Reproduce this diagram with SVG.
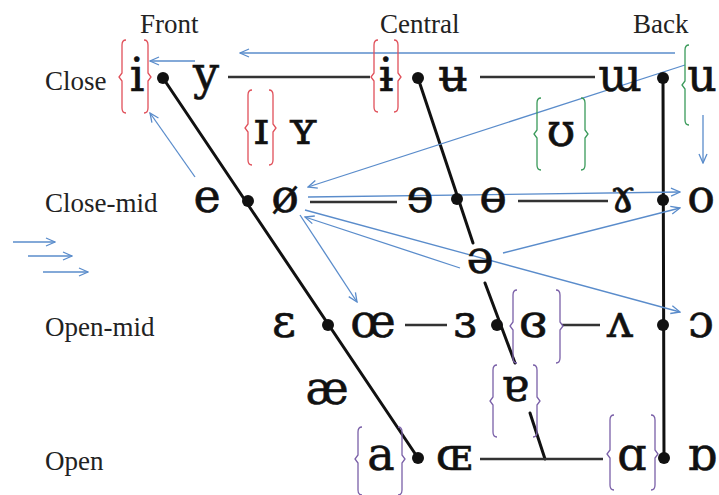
<svg xmlns="http://www.w3.org/2000/svg" width="719" height="495" viewBox="0 0 719 495">
<style>
.lbl{font-family:"Liberation Serif","Times New Roman",serif;font-size:27px;fill:#222}
.v{font-family:"DejaVu Serif","Liberation Serif",serif;font-size:46px;fill:#111;stroke:#111;stroke-width:0.6;text-anchor:middle}
.dot{fill:#111}
.ln{stroke:#111;stroke-width:3;fill:none;stroke-linecap:round}
.hl{stroke:#333;stroke-width:2.5;fill:none}
.ar{stroke:#5a8ccb;stroke-width:1.3;fill:none;marker-end:url(#ah)}
.br{fill:none;stroke-width:1.3}
.red{stroke:#e0505a}
.grn{stroke:#3a9a5a}
.pur{stroke:#7a60a8}
</style>
<defs>
<marker id="ah" markerWidth="11" markerHeight="10" refX="10" refY="5" orient="auto" markerUnits="userSpaceOnUse">
<path d="M1,1 L10,5 L1,9" fill="none" stroke="#5a8ccb" stroke-width="1.3"/>
</marker>
</defs>
<rect width="719" height="495" fill="#fff"/>

<g id="labels">
<text class="lbl" x="140" y="33">Front</text>
<text class="lbl" x="380" y="33">Central</text>
<text class="lbl" x="633" y="33">Back</text>
<text class="lbl" x="45" y="90">Close</text>
<text class="lbl" x="45" y="212">Close-mid</text>
<text class="lbl" x="45" y="336">Open-mid</text>
<text class="lbl" x="45" y="470">Open</text>
</g>

<g id="connectors">
<path class="ln" d="M163,78 L418,458"/>
<path class="ln" d="M418,78 L473,243"/>
<path class="ln" d="M485,283 L515,363"/>
<path class="ln" d="M530,413 L545,459"/>
<path class="ln" d="M663,78 L664,458"/>
<path class="hl" d="M228,77 H370"/>
<path class="hl" d="M480,77 H595"/>
<path class="hl" d="M310,202 H397"/>
<path class="hl" d="M518,201 H608"/>
<path class="hl" d="M405,325 H447"/>
<path class="hl" d="M562,325 H600"/>
<path class="hl" d="M480,459 H603"/>

<path class="ar" d="M675,53 H240"/>
<path class="ar" d="M195,61 H150"/>
<path class="ar" d="M195,177 L150,113"/>
<path class="ar" d="M685,65 L308,187"/>
<path class="ar" d="M703,115 V163"/>
<path class="ar" d="M308,197 L680,192"/>
<path class="ar" d="M503,253 L680,208"/>
<path class="ar" d="M460,268 L305,217"/>
<path class="ar" d="M305,210 L680,312"/>
<path class="ar" d="M300,215 L357,302"/>
<path class="ar" d="M13,242 H55"/>
<path class="ar" d="M28,256 H72"/>
<path class="ar" d="M43,272 H88"/>
</g>

<g id="brackets">
<path class="br red" d="M126,40 Q122,40 122,45 L122,73 L119,77 L122,81 L122,108 Q122,113 126,113"/>
<path class="br red" d="M144,40 Q148,40 148,45 L148,73 L151,77 L148,81 L148,108 Q148,113 144,113"/>
<path class="br red" d="M378,40 Q374,40 374,45 L374,73 L371,77 L374,81 L374,107 Q374,112 378,112"/>
<path class="br red" d="M394,40 Q398,40 398,45 L398,73 L401,77 L398,81 L398,107 Q398,112 394,112"/>
<path class="br red" d="M252,90 Q248,90 248,95 L248,124 L245,128 L248,132 L248,160 Q248,165 252,165"/>
<path class="br red" d="M269,90 Q273,90 273,95 L273,124 L276,128 L273,132 L273,160 Q273,165 269,165"/>
<path class="br grn" d="M541,98 Q537,98 537,103 L537,130 L534,134 L537,138 L537,165 Q537,170 541,170"/>
<path class="br grn" d="M581,98 Q585,98 585,103 L585,130 L588,134 L585,138 L585,165 Q585,170 581,170"/>
<path class="br grn" d="M689,45 Q685,45 685,50 L685,81 L682,85 L685,89 L685,120 Q685,125 689,125"/>
<path class="br pur" d="M517,290 Q513,290 513,295 L513,322 L510,326 L513,330 L513,358 Q513,363 517,363"/>
<path class="br pur" d="M556,290 Q560,290 560,295 L560,322 L563,326 L560,330 L560,358 Q560,363 556,363"/>
<path class="br pur" d="M497,365 Q493,365 493,370 L493,397 L490,401 L493,405 L493,432 Q493,437 497,437"/>
<path class="br pur" d="M533,365 Q537,365 537,370 L537,397 L540,401 L537,405 L537,432 Q537,437 533,437"/>
<path class="br pur" d="M362,427 Q358,427 358,432 L358,455 L355,459 L358,463 L358,490 Q358,495 362,495"/>
<path class="br pur" d="M398,427 Q402,427 402,432 L402,455 L405,459 L402,463 L402,490 Q402,495 398,495"/>
<path class="br pur" d="M614,415 Q610,415 610,420 L610,450 L607,454 L610,458 L610,485 Q610,490 614,490"/>
<path class="br pur" d="M651,415 Q655,415 655,420 L655,450 L658,454 L655,458 L655,485 Q655,490 651,490"/>
</g>

<g id="n-close">
<text class="v" x="137" y="91">i</text>
<circle class="dot" cx="163" cy="78" r="6"/>
<text class="v" x="206" y="89">y</text>
<text class="v" x="386" y="91">ɨ</text>
<circle class="dot" cx="418" cy="78" r="6"/>
<text class="v" x="453" y="91">ʉ</text>
<text class="v" x="620" y="91">ɯ</text>
<circle class="dot" cx="663" cy="78" r="6"/>
<text class="v" x="702" y="91" font-size="42">u</text>
</g>
<g id="n-near-close">
<text class="v" x="261" y="144">ɪ</text>
<text class="v" x="303" y="144">ʏ</text>
<text class="v" x="561" y="146">ʊ</text>
</g>
<g id="n-close-mid">
<text class="v" x="207" y="212">e</text>
<circle class="dot" cx="248" cy="201" r="6"/>
<text class="v" x="285" y="212">ø</text>
<text class="v" x="420" y="212">ɘ</text>
<circle class="dot" cx="457" cy="199" r="6"/>
<text class="v" x="493" y="212">ɵ</text>
<text class="v" x="623" y="212">ɤ</text>
<circle class="dot" cx="663" cy="200" r="6"/>
<text class="v" x="701" y="212">o</text>
</g>
<g id="n-mid">
<text class="v" x="480" y="273">ə</text>
</g>
<g id="n-open-mid">
<text class="v" x="284" y="337">ɛ</text>
<circle class="dot" cx="328" cy="325" r="6"/>
<text class="v" x="373" y="337">œ</text>
<text class="v" x="465" y="337">ɜ</text>
<circle class="dot" cx="497" cy="325" r="6"/>
<text class="v" x="533" y="337">ɞ</text>
<text class="v" x="620" y="337">ʌ</text>
<circle class="dot" cx="663" cy="325" r="6"/>
<text class="v" x="701" y="337">ɔ</text>
</g>
<g id="n-near-open">
<text class="v" x="327" y="404">æ</text>
<text class="v" x="515" y="401">ɐ</text>
</g>
<g id="n-open">
<text class="v" x="381" y="470">a</text>
<circle class="dot" cx="418" cy="458" r="6"/>
<text class="v" x="454" y="470">ɶ</text>
<text class="v" x="632" y="470">ɑ</text>
<circle class="dot" cx="664" cy="458" r="6"/>
<text class="v" x="702" y="470">ɒ</text>
</g>
</svg>
